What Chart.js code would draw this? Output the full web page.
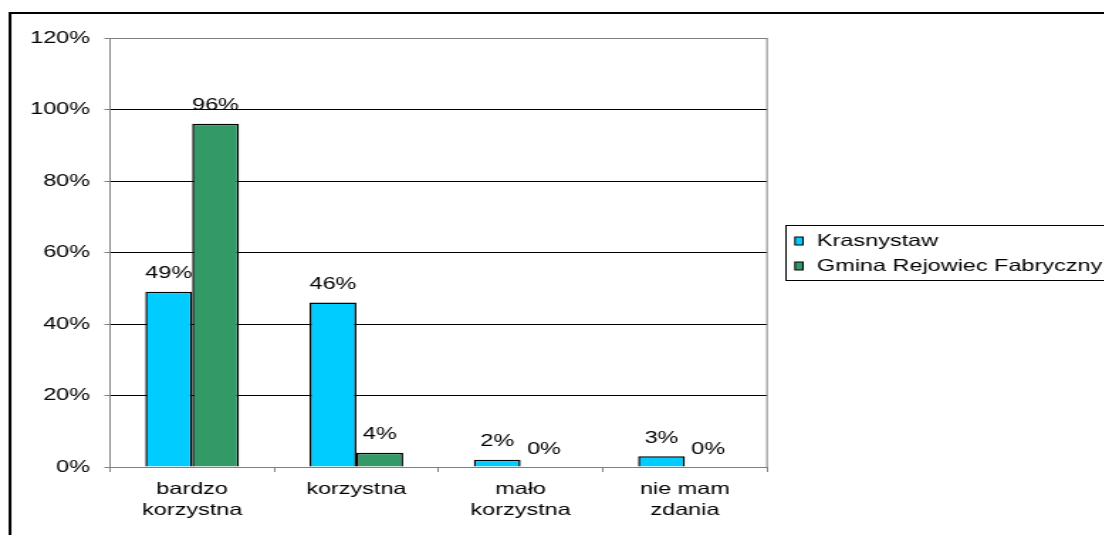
<!DOCTYPE html>
<html>
<head>
<meta charset="utf-8">
<script src="https://cdn.jsdelivr.net/npm/chart.js@4.4.0/dist/chart.umd.min.js"></script>
<style>
  html, body { margin:0; padding:0; background:#fff; overflow:hidden; }
  #wrap { width:778px; height:535px; transform:scaleX(1.42); transform-origin:0 0; }
</style>
</head>
<body>
<div id="wrap"><canvas id="chart" width="778" height="535" style="width:778px;height:535px"></canvas></div>
<script>
// data
const categories = [['bardzo', 'korzystna'], 'korzystna', ['mało', 'korzystna'], ['nie mam', 'zdania']];
const seriesNames = ['Krasnystaw', 'Gmina Rejowiec Fabryczny'];
const krasnystaw = [49, 46, 2, 3];
const gminaRejowiec = [96, 4, 0, 0];
const yTicks = [0, 20, 40, 60, 80, 100, 120];

const SX = 1.42;              // the reference is stretched sideways
const FONT = '"Liberation Sans", Arial, sans-serif';
const FSIZE = 16.5;
const colors = ['#00CCFF', '#339966'];

const valueLabels = {
  id: 'valueLabels',
  afterDatasetsDraw(chart) {
    const ctx = chart.ctx;
    ctx.save();
    ctx.font = FSIZE + 'px ' + FONT;
    ctx.fillStyle = '#000';
    ctx.textAlign = 'center';
    ctx.textBaseline = 'middle';
    chart.data.datasets.forEach((ds, i) => {
      chart.getDatasetMeta(i).data.forEach((bar, j) => {
        ctx.fillText(ds.data[j] + '%', bar.x, bar.y - 18);
      });
    });
    ctx.restore();
  }
};

const frame = {
  id: 'frame',
  beforeDraw(chart) {
    const ctx = chart.ctx;
    ctx.save();
    ctx.fillStyle = '#fff';
    ctx.fillRect(0, 0, chart.width, chart.height);
    ctx.restore();
  },
  afterDraw(chart) {
    const ctx = chart.ctx;
    const a = chart.chartArea;
    ctx.save();
    // plot area border (top + right)
    ctx.strokeStyle = '#808080';
    ctx.lineWidth = 1;
    ctx.beginPath();
    ctx.moveTo(a.left, a.top + 0.5);
    ctx.lineTo(a.right, a.top + 0.5);
    ctx.moveTo(a.right, a.top);
    ctx.lineTo(a.right, a.bottom);
    ctx.stroke();
    // outer chart frame
    ctx.strokeStyle = '#000';
    ctx.lineWidth = 2;
    ctx.beginPath();
    ctx.moveTo(10 / SX, chart.height + 2);
    ctx.lineTo(10 / SX, 13);
    ctx.lineTo(chart.width + 2, 13);
    ctx.stroke();
    // legend
    const lx = 786 / SX, ly = 225, lh = 55;
    ctx.lineWidth = 1;
    ctx.strokeRect(lx, ly + 0.5, chart.width, lh);
    ctx.font = FSIZE + 'px ' + FONT;
    ctx.textBaseline = 'middle';
    ctx.textAlign = 'left';
    const rows = [241, 266];
    chart.data.datasets.forEach((ds, i) => {
      const y = rows[i];
      ctx.fillStyle = ds.backgroundColor;
      ctx.fillRect(795 / SX, y - 4, 8 / SX, 8);
      ctx.strokeStyle = '#000';
      ctx.strokeRect(795 / SX, y - 4, 8 / SX, 8);
      ctx.fillStyle = '#000';
      ctx.fillText(ds.label, 817 / SX, y);
    });
    ctx.restore();
  }
};

new Chart(document.getElementById('chart'), {
  type: 'bar',
  data: {
    labels: categories,
    datasets: [
      { label: seriesNames[0], data: krasnystaw, backgroundColor: colors[0], borderColor: '#000', borderWidth: 1.5 },
      { label: seriesNames[1], data: gminaRejowiec, backgroundColor: colors[1], borderColor: '#000', borderWidth: 1.5 }
    ]
  },
  options: {
    responsive: false,
    animation: false,
    devicePixelRatio: 1,
    layout: { padding: { top: 38, right: 778 - 767 / SX, left: 0, bottom: 0 } },
    categoryPercentage: 0.57,
    barPercentage: 1,
    plugins: { legend: { display: false }, title: { display: false }, tooltip: { enabled: false } },
    scales: {
      x: {
        afterFit: s => { s.height = 68; },
        grid: { offset: true, drawOnChartArea: false, tickLength: 5, tickColor: '#808080' },
        border: { color: '#808080' },
        ticks: { color: '#000', padding: 7, font: { family: FONT, size: FSIZE, lineHeight: 1.27 }, maxRotation: 0 }
      },
      y: {
        min: 0, max: 120,
        afterFit: s => { s.width = 110 / SX; },
        afterBuildTicks: s => { s.ticks = yTicks.map(v => ({ value: v })); },
        grid: {
          color: c => (c.index === 0 ? '#808080' : '#000'),
          tickLength: 4, tickColor: '#808080'
        },
        border: { color: '#808080' },
        ticks: { color: '#000', padding: 10, font: { family: FONT, size: FSIZE }, callback: v => v + '%' }
      }
    }
  },
  plugins: [valueLabels, frame]
});
</script>
</body>
</html>
